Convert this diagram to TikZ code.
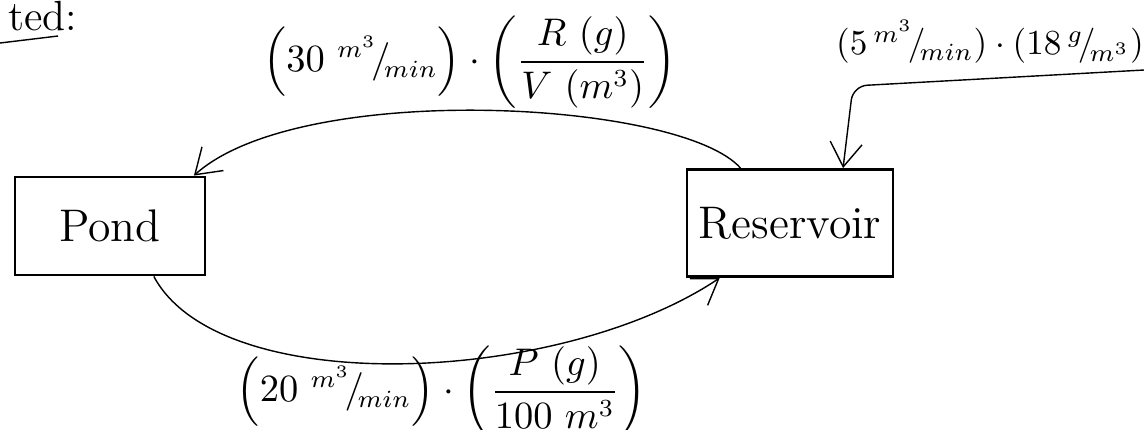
\documentclass[tikz,border=0pt]{standalone}
\usepackage{amsmath}
\usetikzlibrary{arrows.meta}

\newcommand{\rate}[2]{{}^{#1}\!/\!_{#2}}

\begin{document}
\begin{tikzpicture}[x=0.01cm,y=-0.01cm,
  box/.style={draw,thick,minimum width=1.9cm,minimum height=0.98cm,font=\fontsize{13}{16}\selectfont},
  flow/.style={thin,-{Straight Barb[length=2.4mm,width=3.2mm]}},
  lbl/.style={inner sep=0.5pt,font=\fontsize{10.5}{12}\selectfont}]
  \useasboundingbox (0,0) rectangle (1144,429);
  % heading scrap
  \node[anchor=west,font=\fontsize{12}{14}\selectfont] (head) at (-4,16) {ted:};
  \draw[thin] (0,43)--(58,36);
  % tanks
  \node[box] (pond) at (110,226) {Pond};
  \node[box,minimum width=2cm,minimum height=1.07cm] (res) at (790,223) {Reservoir};
  % flows
  \coordinate (inflow) at (1144,70);
  \coordinate (bend) at (853,86);
  \draw[flow,rounded corners=4pt] (inflow)--(bend)--(res.46);
  \draw[flow] (res.132) .. controls (680,100) and (300,80) .. (pond.31);
  \draw[flow] (pond.-49) .. controls (220,400) and (560,385) .. (res.218);
  % labels
  \node[lbl] (toplbl) at (470,62) {$\left(30\ \rate{m^3}{min}\right)\cdot\left(\dfrac{R\ (g)}{V\ (m^3)}\right)$};
  \node[lbl,font=\fontsize{10}{12}\selectfont] (inlbl) at (990,42) {$(5\,\rate{m^3}{min})\cdot(18\,\rate{g}{m^3})$};
  \node[lbl] (botlbl) at (442,392) {$\left(20\ \rate{m^3}{min}\right)\cdot\left(\dfrac{P\ (g)}{100\ m^3}\right)$};
\end{tikzpicture}
\end{document}
